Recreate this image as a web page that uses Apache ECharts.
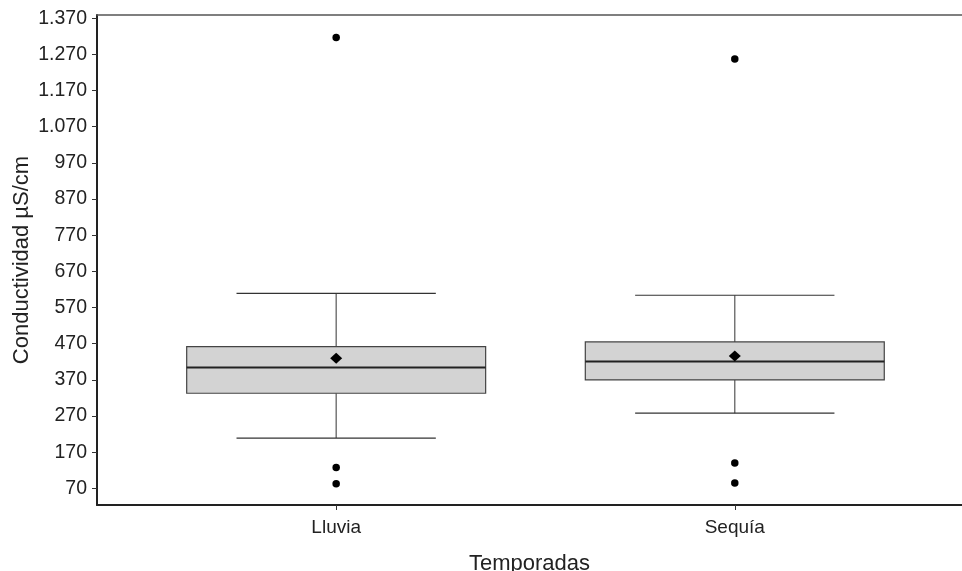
<!DOCTYPE html>
<html>
<head>
<meta charset="utf-8">
<script src="https://cdn.jsdelivr.net/npm/echarts@6/dist/echarts.min.js"></script>
<style>
  html, body { margin: 0; padding: 0; background: #ffffff; }
  #chart { width: 962px; height: 571px; }
</style>
</head>
<body>
<div id="chart"></div>
<script>
// Conductivity by season: box summaries, means and outlying samples
const categories = ['Lluvia', 'Sequía'];
const whiskerLow = [209, 278];
const q1 = [333, 370];
const median = [404, 421];
const q3 = [462, 475];
const whiskerHigh = [609, 604];
const means = [430, 436];
const outliers = [
  [1317, 128, 83],   // Lluvia
  [1257, 140, 85]    // Sequía
];
const yTicks = [70, 170, 270, 370, 470, 570, 670, 770, 870, 970, 1070, 1170, 1270, 1370];

// categories sit at x = 1, 2 on a continuous axis
const xPos = categories.map((c, i) => i + 1);

const boxData = xPos.map((x, i) => [x, whiskerLow[i], q1[i], median[i], q3[i], whiskerHigh[i]]);
const meanData = xPos.map((x, i) => [x, means[i]]);
const outlierData = [];
outliers.forEach((vals, i) => vals.forEach(v => outlierData.push([xPos[i], v])));

const FONT = '"Liberation Sans", Arial, sans-serif';
const fmtThousands = v => String(v).replace(/\B(?=(\d{3})+(?!\d))/g, '.');

function renderBox(params, api) {
  const x = api.value(0);
  const pLow = api.coord([x, api.value(1)]);
  const pQ1 = api.coord([x, api.value(2)]);
  const pMed = api.coord([x, api.value(3)]);
  const pQ3 = api.coord([x, api.value(4)]);
  const pHigh = api.coord([x, api.value(5)]);
  const boxHalf = api.size([0.75, 0])[0] / 2;
  const capHalf = api.size([0.5, 0])[0] / 2;
  const cx = pQ1[0];
  const whisker = { stroke: '#555555', lineWidth: 1.2 };
  const cap = { stroke: '#333333', lineWidth: 1.2 };
  return {
    type: 'group',
    children: [
      { type: 'line', shape: { x1: cx, y1: pQ1[1], x2: cx, y2: pLow[1] }, style: whisker },
      { type: 'line', shape: { x1: cx, y1: pQ3[1], x2: cx, y2: pHigh[1] }, style: whisker },
      { type: 'line', shape: { x1: cx - capHalf, y1: pLow[1], x2: cx + capHalf, y2: pLow[1] }, style: cap },
      { type: 'line', shape: { x1: cx - capHalf, y1: pHigh[1], x2: cx + capHalf, y2: pHigh[1] }, style: cap },
      { type: 'rect', shape: { x: cx - boxHalf, y: pQ3[1], width: boxHalf * 2, height: pQ1[1] - pQ3[1] },
        style: { fill: '#d3d3d3', stroke: '#444444', lineWidth: 1.2 } },
      { type: 'line', shape: { x1: cx - boxHalf, y1: pMed[1], x2: cx + boxHalf, y2: pMed[1] },
        style: { stroke: '#222222', lineWidth: 2 } }
    ]
  };
}

const chart = echarts.init(document.getElementById('chart'), null, { renderer: 'canvas' });

const option = {
  animation: false,
  backgroundColor: '#ffffff',
  grid: { left: 97, right: 0, top: 15, bottom: 66, outerBoundsMode: 'none', containLabel: false },
  xAxis: [
    {
      type: 'value',
      min: 0.4,
      max: 2.57,
      position: 'bottom',
      splitLine: { show: false },
      axisLine: { show: true, onZero: false, lineStyle: { color: '#222222', width: 2 } },
      axisTick: { show: true, customValues: xPos, length: 5, lineStyle: { color: '#333333', width: 1 } },
      axisLabel: {
        customValues: xPos,
        formatter: v => categories[Math.round(v) - 1],
        color: '#222222', fontFamily: FONT, fontSize: 19, margin: 13
      },
      name: 'Temporadas',
      nameLocation: 'middle',
      nameGap: 48,
      nameMoveOverlap: false,
      nameTextStyle: { color: '#222222', fontFamily: FONT, fontSize: 22 }
    },
    {
      type: 'value',
      min: 0.4,
      max: 2.57,
      position: 'top',
      splitLine: { show: false },
      axisLine: { show: true, onZero: false, lineStyle: { color: '#555555', width: 1.5 } },
      axisTick: { show: false },
      axisLabel: { show: false }
    }
  ],
  yAxis: {
    type: 'value',
    min: 24,
    max: 1379,
    splitLine: { show: false },
    axisLine: { show: true, onZero: false, lineStyle: { color: '#222222', width: 2 } },
    axisTick: { show: true, customValues: yTicks, length: 5, lineStyle: { color: '#333333', width: 1 } },
    axisLabel: {
      customValues: yTicks,
      formatter: v => fmtThousands(v),
      color: '#222222', fontFamily: FONT, fontSize: 19.5, margin: 10
    },
    name: 'Conductividad µS/cm',
    nameLocation: 'middle',
    nameGap: 64,
    nameMoveOverlap: false,
    nameTextStyle: { color: '#222222', fontFamily: FONT, fontSize: 22 }
  },
  series: [
    {
      type: 'custom',
      xAxisIndex: 0,
      renderItem: renderBox,
      encode: { x: 0, y: [1, 2, 3, 4, 5] },
      data: boxData,
      z: 2
    },
    {
      type: 'scatter',
      xAxisIndex: 0,
      symbol: 'diamond',
      symbolSize: [12, 11],
      itemStyle: { color: '#000000', opacity: 1 },
      data: meanData,
      z: 3
    },
    {
      type: 'scatter',
      xAxisIndex: 0,
      symbol: 'circle',
      symbolSize: 7.5,
      itemStyle: { color: '#000000', opacity: 1 },
      data: outlierData,
      z: 3
    }
  ]
};

chart.setOption(option);
</script>
</body>
</html>
